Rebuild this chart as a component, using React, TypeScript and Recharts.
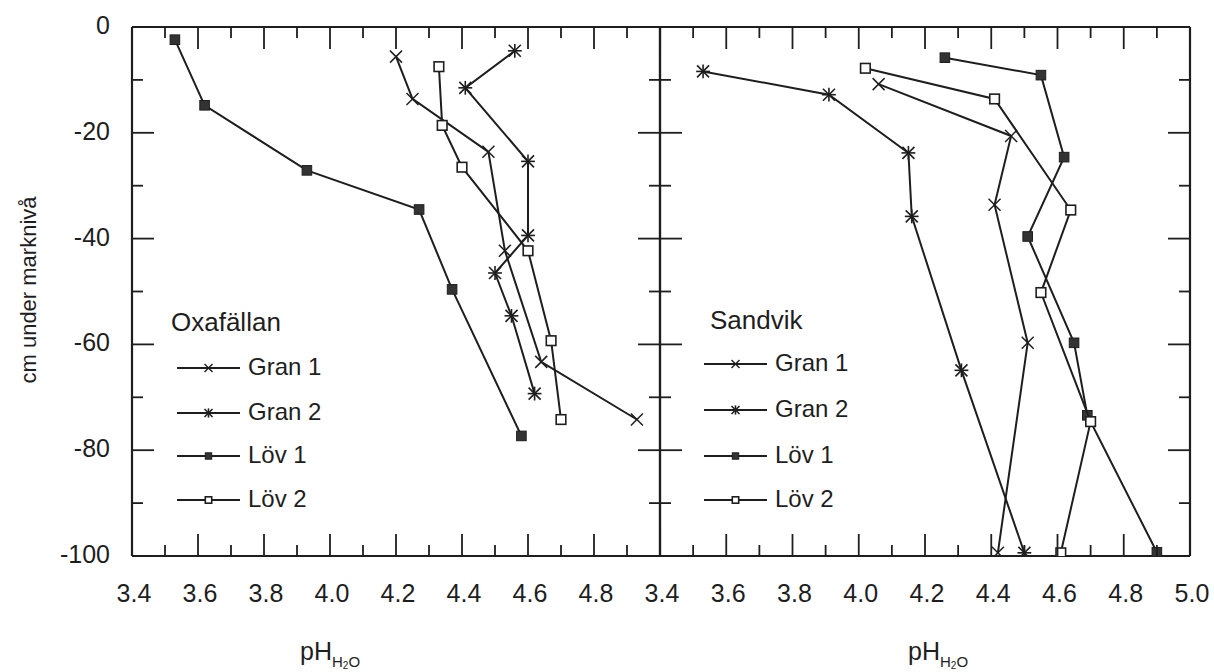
import React from 'react';
import { ScatterChart, Scatter, XAxis, YAxis, Legend } from 'recharts';

// ---- axis ticks & labels ----
const xTicks = [3.4, 3.5, 3.6, 3.7, 3.8, 3.9, 4.0, 4.1, 4.2, 4.3, 4.4, 4.5, 4.6, 4.7, 4.8, 4.9, 5.0];
const xLabelsLeft = ['3.4', '3.6', '3.8', '4.0', '4.2', '4.4', '4.6', '4.8'];
const xLabelsRight = ['3.4', '3.6', '3.8', '4.0', '4.2', '4.4', '4.6', '4.8', '5.0'];
const yTicks = [-100, -90, -80, -70, -60, -50, -40, -30, -20, -10, 0];
const yLabels = ['0', '-20', '-40', '-60', '-80', '-100'];
const seriesNames = ['Gran 1', 'Gran 2', 'Löv 1', 'Löv 2'];
const siteNames = ['Oxafällan', 'Sandvik'];

// ---- Oxafällan ----
const oxGran1Ph = [4.20, 4.25, 4.48, 4.53, 4.64, 4.93];
const oxGran1Depth = [-5.6, -13.6, -23.6, -42.3, -63.3, -74.2];
const oxGran2Ph = [4.56, 4.41, 4.60, 4.60, 4.50, 4.55, 4.62];
const oxGran2Depth = [-4.5, -11.5, -25.4, -39.4, -46.5, -54.6, -69.3];
const oxLov1Ph = [3.53, 3.62, 3.93, 4.27, 4.37, 4.58];
const oxLov1Depth = [-2.4, -14.8, -27.1, -34.5, -49.6, -77.3];
const oxLov2Ph = [4.33, 4.34, 4.40, 4.60, 4.67, 4.70];
const oxLov2Depth = [-7.5, -18.6, -26.5, -42.3, -59.3, -74.2];

// ---- Sandvik ----
const saGran1Ph = [4.06, 4.46, 4.41, 4.51, 4.42];
const saGran1Depth = [-10.8, -20.6, -33.6, -59.7, -99.4];
const saGran2Ph = [3.53, 3.91, 4.15, 4.16, 4.31, 4.50];
const saGran2Depth = [-8.4, -12.8, -23.8, -35.8, -64.9, -99.4];
const saLov1Ph = [4.26, 4.55, 4.62, 4.51, 4.65, 4.69, 4.90];
const saLov1Depth = [-5.8, -9.1, -24.6, -39.6, -59.7, -73.4, -99.3];
const saLov2Ph = [4.02, 4.41, 4.64, 4.55, 4.70, 4.61];
const saLov2Depth = [-7.8, -13.6, -34.6, -50.2, -74.6, -99.4];

const zip = (ph: number[], depth: number[]) => ph.map((p, i) => ({ ph: p, depth: depth[i] }));

const INK = '#1e1e1e';
const FONT = '"Liberation Sans", Arial, Helvetica, sans-serif';
const markerKinds = ['cross', 'star', 'filled', 'open'];

function Marker({ kind, cx, cy, r = 5 }: { kind: string; cx: number; cy: number; r?: number }) {
  if (kind === 'cross') {
    return (
      <g stroke={INK} strokeWidth={1.5}>
        <line x1={cx - r} y1={cy - r} x2={cx + r} y2={cy + r} />
        <line x1={cx - r} y1={cy + r} x2={cx + r} y2={cy - r} />
      </g>
    );
  }
  if (kind === 'star') {
    return (
      <g stroke={INK} strokeWidth={1.6}>
        <line x1={cx - r} y1={cy - r} x2={cx + r} y2={cy + r} />
        <line x1={cx - r} y1={cy + r} x2={cx + r} y2={cy - r} />
        <line x1={cx - r * 1.15} y1={cy} x2={cx + r * 1.15} y2={cy} />
        <line x1={cx} y1={cy - r * 1.15} x2={cx} y2={cy + r * 1.15} />
      </g>
    );
  }
  const s = r * 0.8;
  if (kind === 'filled') {
    return <rect x={cx - s} y={cy - s} width={2 * s} height={2 * s} fill="#333" stroke={INK} strokeWidth={1} />;
  }
  return <rect x={cx - s} y={cy - s} width={2 * s} height={2 * s} fill="#fff" stroke={INK} strokeWidth={1.6} />;
}

const isMajorX = (v: number) => Math.round(v * 10) % 2 === 0;
const isMajorY = (v: number) => Math.round(v) % 20 === 0;

function BottomTick(props: any) {
  const { x, y, payload, labels } = props;
  const v = payload.value as number;
  const major = isMajorX(v);
  const lab = v.toFixed(1);
  return (
    <g>
      <line x1={x} y1={y} x2={x} y2={y - (major ? 22 : 11)} stroke={INK} strokeWidth={1.8} />
      {major && labels.includes(lab) && (
        <text x={x + 2} y={y + 37} textAnchor="middle" dominantBaseline="central" fontSize={25} fontFamily={FONT} fill={INK}>
          {lab}
        </text>
      )}
    </g>
  );
}

function TopTick(props: any) {
  const { x, y, payload } = props;
  const major = isMajorX(payload.value);
  return <line x1={x} y1={y} x2={x} y2={y + (major ? 22 : 11)} stroke={INK} strokeWidth={1.8} />;
}

function LeftTick(props: any) {
  const { x, y, payload, showLabels } = props;
  const v = payload.value as number;
  const major = isMajorY(v);
  return (
    <g>
      <line x1={x} y1={y} x2={x + (major ? 22 : 11)} y2={y} stroke={INK} strokeWidth={1.8} />
      {showLabels && yLabels.includes(String(v)) && (
        <text x={x - 22} y={y - 2} textAnchor="end" dominantBaseline="central" fontSize={25} fontFamily={FONT} fill={INK}>
          {String(v)}
        </text>
      )}
    </g>
  );
}

function RightTick(props: any) {
  const { x, y, payload } = props;
  const major = isMajorY(payload.value);
  return <line x1={x} y1={y} x2={x - (major ? 22 : 11)} y2={y} stroke={INK} strokeWidth={1.8} />;
}

function legendContent(title: string, lineX0: number, lineX1: number, textX: number, titleX: number, titleY: number, rows: number[]) {
  return () => (
    <svg width={240} height={230} style={{ overflow: 'visible' }}>
      <text x={titleX} y={titleY} dominantBaseline="central" fontSize={26} fontFamily={FONT} fill={INK}>
        {title}
      </text>
      {seriesNames.map((n, i) => (
        <g key={n}>
          <line x1={lineX0} y1={rows[i]} x2={lineX1} y2={rows[i]} stroke={INK} strokeWidth={1.8} />
          <Marker kind={markerKinds[i]} cx={(lineX0 + lineX1) / 2} cy={rows[i]} r={4} />
          <text x={textX} y={rows[i] - 2} dominantBaseline="central" fontSize={24} fontFamily={FONT} fill={INK}>
            {n}
          </text>
        </g>
      ))}
    </svg>
  );
}

type PanelProps = {
  marginLeft: number;
  marginRight: number;
  series: { ph: number; depth: number }[][];
  labels: string[];
  showYLabels: boolean;
  legend: () => React.ReactElement;
  legendPos: { left: number; top: number };
};

function Panel({ marginLeft, marginRight, series, labels, showYLabels, legend, legendPos }: PanelProps) {
  const axisLine = { stroke: INK, strokeWidth: 2.2 };
  return (
    <div style={{ position: 'absolute', left: 0, top: 0 }}>
      <ScatterChart width={1214} height={672} margin={{ top: 26, bottom: 115, left: marginLeft, right: marginRight }}>
        <XAxis
          xAxisId="b"
          type="number"
          dataKey="ph"
          domain={[3.4, 5]}
          ticks={xTicks}
          interval={0}
          height={1}
          tickSize={0}
          tickMargin={0}
          tickLine={false}
          axisLine={axisLine}
          allowDataOverflow
          tick={(p: any) => <BottomTick {...p} labels={labels} />}
        />
        <XAxis
          xAxisId="t"
          orientation="top"
          type="number"
          dataKey="ph"
          domain={[3.4, 5]}
          ticks={xTicks}
          interval={0}
          height={1}
          tickSize={0}
          tickMargin={0}
          tickLine={false}
          axisLine={axisLine}
          allowDataOverflow
          tick={(p: any) => <TopTick {...p} />}
        />
        <YAxis
          yAxisId="l"
          type="number"
          dataKey="depth"
          domain={[-100, 0]}
          ticks={yTicks}
          interval={0}
          width={1}
          tickSize={0}
          tickMargin={0}
          tickLine={false}
          axisLine={axisLine}
          allowDataOverflow
          tick={(p: any) => <LeftTick {...p} showLabels={showYLabels} />}
        />
        <YAxis
          yAxisId="r"
          orientation="right"
          type="number"
          dataKey="depth"
          domain={[-100, 0]}
          ticks={yTicks}
          interval={0}
          width={1}
          tickSize={0}
          tickMargin={0}
          tickLine={false}
          axisLine={axisLine}
          allowDataOverflow
          tick={(p: any) => <RightTick {...p} />}
        />
        {series.map((data, i) => (
          <Scatter
            key={seriesNames[i]}
            name={seriesNames[i]}
            xAxisId="b"
            yAxisId="l"
            data={data}
            line={{ stroke: INK, strokeWidth: 2 }}
            lineType="joint"
            fill={INK}
            isAnimationActive={false}
            shape={(p: any) => <Marker kind={markerKinds[i]} cx={p.cx} cy={p.cy} r={6} />}
          />
        ))}
        <Scatter xAxisId="t" yAxisId="r" data={[]} isAnimationActive={false} legendType="none" />
        <Legend
          layout="horizontal"
          verticalAlign="middle"
          align="center"
          content={legend}
          wrapperStyle={{ left: legendPos.left, top: legendPos.top, width: 240, height: 230 }}
        />
      </ScatterChart>
    </div>
  );
}

function PhLabel({ x, y }: { x: number; y: number }) {
  return (
    <text x={x} y={y} fontSize={25} fontFamily={FONT} fill={INK}>
      pH
      <tspan fontSize={15} dy={7}>H</tspan>
      <tspan fontSize={10} dy={2}>2</tspan>
      <tspan fontSize={15} dy={-2}>O</tspan>
    </text>
  );
}

export default function App() {
  const oxSeries = [zip(oxGran1Ph, oxGran1Depth), zip(oxGran2Ph, oxGran2Depth), zip(oxLov1Ph, oxLov1Depth), zip(oxLov2Ph, oxLov2Depth)];
  const saSeries = [zip(saGran1Ph, saGran1Depth), zip(saGran2Ph, saGran2Depth), zip(saLov1Ph, saLov1Depth), zip(saLov2Ph, saLov2Depth)];
  return (
    <div style={{ position: 'absolute', left: 0, top: 0, width: 1214, height: 672, background: '#fff', overflow: 'hidden' }}>
      <Panel
        marginLeft={131}
        marginRight={1214 - 660 - 1}
        series={oxSeries}
        labels={xLabelsLeft}
        showYLabels
        legend={legendContent(siteNames[0], 12, 75, 83, 6, 22, [68, 113, 156, 200])}
        legendPos={{ left: 165, top: 300 }}
      />
      <Panel
        marginLeft={659}
        marginRight={1214 - 1190 - 1}
        series={saSeries}
        labels={xLabelsRight}
        showYLabels={false}
        legend={legendContent(siteNames[1], 4, 67, 75, 10, 22, [66, 112, 158, 202])}
        legendPos={{ left: 700, top: 298 }}
      />
      <svg width={1214} height={672} style={{ position: 'absolute', left: 0, top: 0, pointerEvents: 'none' }}>
        <text
          x={28}
          y={290}
          transform="rotate(-90 28 290)"
          textAnchor="middle"
          dominantBaseline="central"
          fontSize={22}
          fontFamily={FONT}
          fill={INK}
        >
          cm under marknivå
        </text>
        <PhLabel x={300} y={660} />
        <PhLabel x={908} y={660} />
      </svg>
    </div>
  );
}
